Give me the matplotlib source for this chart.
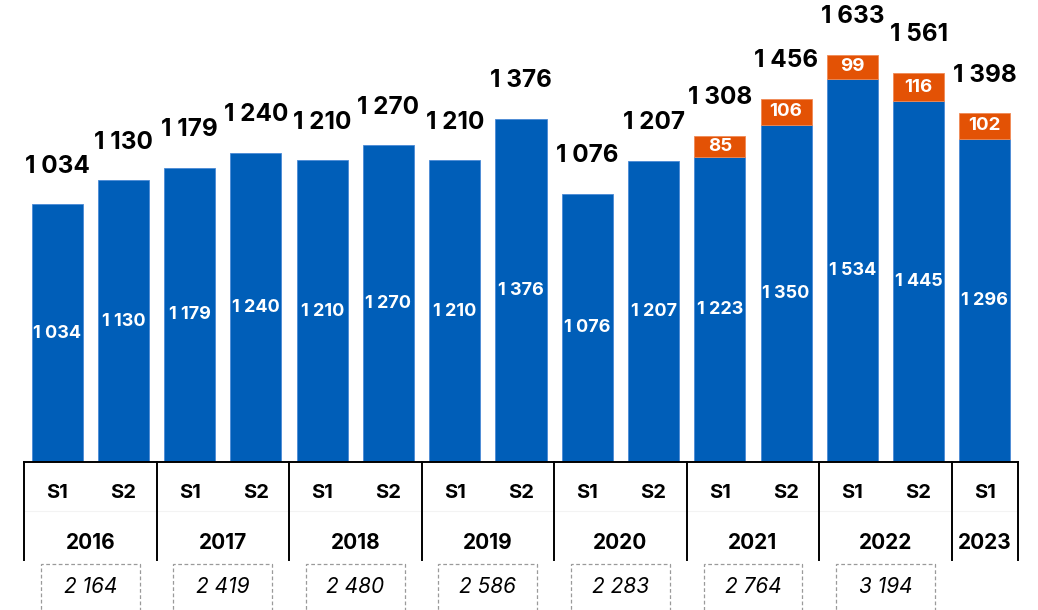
import matplotlib
matplotlib.use("Agg")
import matplotlib.pyplot as plt
from matplotlib.patches import Rectangle

# data
years = ["2016", "2017", "2018", "2019", "2020", "2021", "2022", "2023"]
halves = ["S1", "S2"] * 7 + ["S1"]
base = [1034, 1130, 1179, 1240, 1210, 1270, 1210, 1376, 1076, 1207, 1223, 1350, 1534, 1445, 1296]
extra = [0, 0, 0, 0, 0, 0, 0, 0, 0, 0, 85, 106, 99, 116, 102]
annual = [2164, 2419, 2480, 2586, 2283, 2764, 3194]

BLUE = "#005EB8"
ORANGE = "#E35205"
FONT = "Inter"

plt.rcParams["font.family"] = [FONT, "DejaVu Sans"]


def fmt(v):
    return f"{v:,}".replace(",", " ")


W, H = 1038, 610
fig = plt.figure(figsize=(W / 100, H / 100), dpi=100)
fig.patch.set_facecolor("white")

# axes spans the bar area: baseline at pixel row 462, x from 24 to 1018 px
base_px = 462
ax = fig.add_axes([24 / W, (H - base_px) / H, 994 / W, base_px / H])
px_per_unit = 0.2495
ymax = base_px / px_per_unit
ax.set_xlim(-0.5, len(base) - 0.5)
ax.set_ylim(0, ymax)
ax.axis("off")


def py(p):
    """pixel row in the figure -> data y value"""
    return (base_px - p) / px_per_unit


x = list(range(len(base)))
totals = [b + e for b, e in zip(base, extra)]

ax.bar(x, base, width=0.77, color=BLUE, edgecolor="#4a8ad6", linewidth=0.6, zorder=2)
xs = [xi for xi, e in zip(x, extra) if e]
ax.bar(xs, [extra[i] for i in xs], bottom=[base[i] for i in xs], width=0.77,
       color=ORANGE, edgecolor="#f08a55", linewidth=0.6, zorder=2)

for xi, b, e, t in zip(x, base, extra, totals):
    ax.text(xi, b / 2, fmt(b), ha="center", va="center", color="white",
            fontsize=13, fontweight="bold", zorder=3)
    if e:
        ax.text(xi, b + e / 2, fmt(e), ha="center", va="center", color="white",
                fontsize=13.5, fontweight="bold", zorder=3)
    ax.annotate(fmt(t), (xi, t), xytext=(0, 19), textcoords="offset points",
                ha="center", va="bottom", fontsize=17.5, fontweight="bold",
                color="black")

# table under the bars
line_kw = dict(color="black", linewidth=1.4, clip_on=False, zorder=4)
ax.plot([-0.5, len(base) - 0.5], [0, 0], **line_kw)
ax.plot([-0.5, len(base) - 0.5], [py(511), py(511)], color="#f3f3f3",
        linewidth=0.8, clip_on=False)

bounds = [-0.5] + [1.5 + 2 * i for i in range(7)] + [len(base) - 0.5]
for b in bounds:
    ax.plot([b, b], [0, py(560)], **line_kw)

for xi, h in zip(x, halves):
    ax.text(xi, py(493), h, ha="center", va="center", fontsize=14.5,
            fontweight="bold", clip_on=False)

for i, yr in enumerate(years):
    cx = (bounds[i] + bounds[i + 1]) / 2
    ax.text(cx, py(543), yr, ha="center", va="center", fontsize=15,
            fontweight="bold", clip_on=False)

for i, tot in enumerate(annual):
    cx = (bounds[i] + bounds[i + 1]) / 2
    ax.add_patch(Rectangle((cx - 0.745, py(625)), 1.49, py(564) - py(625),
                           fill=False, edgecolor="#9a9a9a", linestyle=(0, (3, 2)),
                           linewidth=0.9, clip_on=False))
    ax.text(cx, py(587), fmt(tot), ha="center", va="center", fontsize=15,
            style="italic", clip_on=False)

fig.savefig("out.png", dpi=100, facecolor="white")
